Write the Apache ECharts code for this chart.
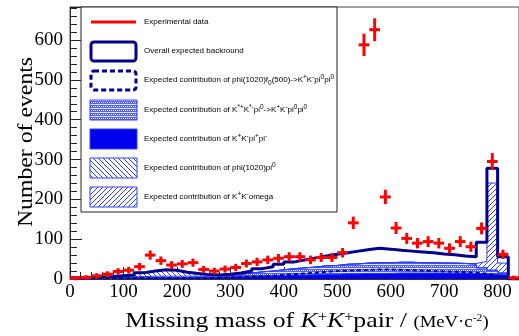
<!DOCTYPE html>
<html><head><meta charset="utf-8">
<script src="https://cdn.jsdelivr.net/npm/echarts@6/dist/echarts.min.js"></script>
<style>html,body{margin:0;padding:0;background:#fff}#c{width:519px;height:336px}</style>
</head><body><div id="c"></div>
<script>
// ---- data (bin centres in MeV/c^2, bin width 20) ----
const binWidth = 20;
const binCenters = [10,30,50,70,90,110,130,150,170,190,210,230,250,270,290,310,330,350,370,390,410,430,450,470,490,510,530,550,570,590,610,630,650,670,690,710,730,750,770,790,810,830];
const expData = [2,4,8,12,19,22,31,60,46,35,38,41,24,20,25,29,39,43,48,52,56,56,48,54,54,66,141,588,626,206,128,102,90,94,90,77,94,81,127,295,62,3];
const overallBkg = [3,4,5,6,8,10,16,20,23,22,17,14,11,10,12,15,20,26,31,37,43,48,53,58,62,66,70,74,77,75,72,70,68,66,63,61,58,56,92,278,56,0];
const kkpipi = [1,1,2,2,3,3,3,4,4,4,4,5,5,5,6,6,7,8,8,9,10,10,11,12,12,13,13,14,14,14,15,15,15,15,15,15,15,14,13,12,10,0];
const kstarKstarPi0 = [0,0,0,1,2,3,3,3,3,3,3,2,2,3,4,6,8,10,12,14,16,18,19,21,22,24,25,26,27,27,27,27,26,26,25,25,24,23,15,10,5,0];
const phiF0 = [1,1,2,2,2,2,2,2,2,2,2,2,2,3,4,5,6,6,8,10,12,14,16,18,20,21,22,23,24,24,23,22,21,20,19,18,17,16,13,8,4,0];
const phiPi0 = [0,0,0,0,3,4,10,13,16,15,10,7,4,0,0,0,0,0,0,0,0,0,0,0,0,0,0,0,0,0,0,0,0,0,0,0,0,0,0,0,0,0];
const kkOmega = [0,0,0,0,0,0,0,0,0,0,0,0,0,0,0,0,0,0,0,0,0,0,0,0,0,0,0,0,0,0,0,0,0,0,0,0,0,2,16,219,25,0];
const yTickStep = 100;
const xTickStep = 100;

// ---- patterns ----
function makePattern(kind){
  const c = document.createElement('canvas');
  const g = c.getContext('2d');
  if (kind === 'dots'){
    c.width = 4; c.height = 4;
    g.fillStyle = '#5062f2'; g.fillRect(0,0,4,4);
    g.fillStyle = '#ffffff';
    g.fillRect(0,0,1,1); g.fillRect(2,0,1,1); g.fillRect(1,2,1,1); g.fillRect(3,2,1,1);
    g.fillStyle = '#c8d0ff';
    g.fillRect(1,0,1,1); g.fillRect(3,0,1,1);
  } else {
    c.width = 5; c.height = 5;
    g.fillStyle = '#ffffff'; g.fillRect(0,0,5,5);
    g.strokeStyle = '#3040f0'; g.lineWidth = 1;
    for (let k=-1;k<=1;k++){
      g.beginPath();
      if (kind === 'fwd'){ g.moveTo(k*5, 5); g.lineTo(k*5+5, 0); }
      else { g.moveTo(k*5, 0); g.lineTo(k*5+5, 5); }
      g.stroke();
    }
  }
  return {image: c, repeat: 'repeat'};
}
const patDots = makePattern('dots');
const patBack = makePattern('back');
const patFwd = makePattern('fwd');

function histPoints(vals){
  const pts = vals.map((v,i)=>[binCenters[i]-binWidth/2, v]);
  pts.push([binCenters[binCenters.length-1]+binWidth/2, vals[vals.length-1]]);
  return pts;
}
// stacked tops (THStack-style), built from the component arrays
const layers = [kkpipi, kstarKstarPi0, phiPi0, kkOmega];
const cumTops = [];
layers.reduce((acc, arr)=>{ const s = acc.map((v,i)=>v+arr[i]); cumTops.push(s); return s; }, binCenters.map(()=>0));

const serif = '"Liberation Serif","Times New Roman",serif';
const sans = '"Liberation Sans",Arial,sans-serif';
const navy = '#00008c';

// piecewise text layout (for super/subscripts)
const mctx = document.createElement('canvas').getContext('2d');
function pieceGroup(pieces, cx, cy, opts){
  let w = 0;
  const kids = pieces.map(p=>{ mctx.font = p.f; const pw = mctx.measureText(p.t).width; const o = {p, x:w}; w += pw; return o; });
  return {type:'group', x:cx, y:cy, rotation:opts.rotation||0, scaleX:opts.scaleX||1, z:102,
    children: kids.map(o=>({type:'text', z:102, x:o.x - (opts.align==='left'?0:w/2), y:(o.p.dy||0),
      style:{text:o.p.t, font:o.p.f, fill:'#000', verticalAlign:'bottom'}}))};
}

const chart = echarts.init(document.getElementById('c'), null, {renderer:'canvas'});

function areaSeries(name, vals, fill){
  return {name, type:'line', step:'end', symbol:'none', z:2,
    data: histPoints(vals), lineStyle:{color:'#2a3cff', width:1},
    areaStyle:{color: fill, opacity:1, origin:'start'}, silent:true};
}

const legRich = {
  n:{fontSize:8, fontFamily:sans, lineHeight:13, verticalAlign:'middle', color:'#000'},
  sup:{fontSize:6.5, fontFamily:sans, lineHeight:7, verticalAlign:'top', color:'#000'},
  sub:{fontSize:6.5, fontFamily:sans, lineHeight:7, verticalAlign:'bottom', color:'#000'}
};
const legendTexts = [
  '{n|Experimental data}',
  '{n|Overall expected backround}',
  '{n|Expected contribution of phi(1020)f}{sub|0}{n|(500)->K}{sup|+}{n|K}{sup|-}{n|pi}{sup|0}{n|pi}{sup|0}',
  '{n|Expected contribution of K}{sup|*+}{n|K}{sup|*-}{n|pi}{sup|0}{n|->K}{sup|+}{n|K}{sup|-}{n|pi}{sup|0}{n|pi}{sup|0}',
  '{n|Expected contribution of K}{sup|+}{n|K}{sup|-}{n|pi}{sup|+}{n|pi}{sup|-}',
  '{n|Expected contribution of phi(1020)pi}{sup|0}',
  '{n|Expected contribution of K}{sup|+}{n|K}{sup|-}{n|omega}'
];
const legendY = [22,51,80,110,139,168,197];

const T = 22;
const xTitle = pieceGroup([
  {t:'Missing mass of ', f:T+'px '+serif},
  {t:'K', f:'italic '+T+'px '+serif},
  {t:'+', f:'14px '+serif, dy:-8},
  {t:'K', f:'italic '+T+'px '+serif},
  {t:'+', f:'14px '+serif, dy:-8},
  {t:'pair / ', f:T+'px '+serif},
  {t:'(MeV·c', f:'16px '+serif, dy:-1},
  {t:'-2', f:'10px '+serif, dy:-9},
  {t:')', f:'16px '+serif, dy:-1}
], 307, 332, {scaleX:1.17});
const yTitle = pieceGroup([{t:'Number of events', f:T+'px '+serif}], 37, 142, {rotation:Math.PI/2, scaleX:1.08});

const graphics = [
  {type:'rect', z:100, shape:{x:81, y:7, width:256, height:205}, style:{fill:'#fff', stroke:'#222', lineWidth:1}},
  {type:'line', z:101, shape:{x1:91,y1:22,x2:136,y2:22}, style:{stroke:'#ff0000', lineWidth:3}},
  {type:'rect', z:101, shape:{x:91,y:42,width:45,height:19,r:3}, style:{fill:'#fff', stroke:navy, lineWidth:3}},
  {type:'rect', z:101, shape:{x:91,y:71,width:45,height:19,r:3}, style:{fill:'#fff', stroke:navy, lineWidth:3, lineDash:[5,3]}},
  {type:'rect', z:101, shape:{x:90,y:100,width:47,height:20}, style:{fill:patDots, stroke:'#3344ff', lineWidth:1}},
  {type:'rect', z:101, shape:{x:90,y:129,width:47,height:20}, style:{fill:'#0000ee', stroke:'#3344ff', lineWidth:1}},
  {type:'rect', z:101, shape:{x:90,y:158,width:47,height:20}, style:{fill:patBack, stroke:'#3344ff', lineWidth:1}},
  {type:'rect', z:101, shape:{x:90,y:187,width:47,height:20}, style:{fill:patFwd, stroke:'#3344ff', lineWidth:1}},
  xTitle, yTitle
];
legendTexts.forEach((t,i)=>{
  graphics.push({type:'text', z:102, style:{text:t, x:144, y:legendY[i], verticalAlign:'middle', font:'8px '+sans, fill:'#000', rich:legRich}});
});

chart.setOption({
  animation:false,
  backgroundColor:'#fff',
  grid:{left:70, right:-1, top:7, bottom:57, show:true, borderColor:'#444', borderWidth:1},
  xAxis:{type:'value', min:0, max:840, interval:xTickStep,
    axisLine:{show:true, lineStyle:{color:'#333', width:1}},
    axisTick:{inside:true, length:12, lineStyle:{color:'#222'}},
    minorTick:{show:true, splitNumber:5, length:7, lineStyle:{color:'#222'}},
    splitLine:{show:false},
    axisLabel:{fontFamily:serif, fontSize:19, color:'#000', margin:4, showMaxLabel:false}},
  yAxis:{type:'value', min:0, max:683, interval:yTickStep,
    axisLine:{show:true, lineStyle:{color:'#333', width:1}},
    axisTick:{inside:true, length:12, lineStyle:{color:'#222'}},
    minorTick:{show:true, splitNumber:5, length:7, lineStyle:{color:'#222'}},
    splitLine:{show:false},
    axisLabel:{fontFamily:serif, fontSize:19, color:'#000', margin:7, showMaxLabel:false}},
  series:[
    areaSeries('K+K-omega', cumTops[3], patFwd),
    areaSeries('phi(1020)pi0', cumTops[2], patBack),
    areaSeries('K*+K*-pi0', cumTops[1], patDots),
    areaSeries('K+K-pi+pi-', cumTops[0], '#0000ee'),
    {name:'phi f0', type:'line', step:'end', symbol:'none', z:3, data:histPoints(phiF0),
      lineStyle:{color:navy, width:2, type:[4,3]}},
    {name:'overall', type:'line', step:'end', symbol:'none', z:4, data:histPoints(overallBkg),
      lineStyle:{color:navy, width:3}},
    {name:'Experimental data', type:'custom', z:5,
      data: expData.map((v,i)=>[binCenters[i], v, Math.sqrt(v)]),
      renderItem:(params, api)=>{
        const x = api.value(0), y = api.value(1), e = api.value(2);
        const l = api.coord([x-binWidth/2, y]), r = api.coord([x+binWidth/2, y]);
        const t = api.coord([x, y+e]), b = api.coord([x, Math.max(0, y-e)]);
        const st = {stroke:'#ff0000', lineWidth:3};
        return {type:'group', children:[
          {type:'line', shape:{x1:l[0], y1:l[1], x2:r[0], y2:r[1]}, style:st},
          {type:'line', shape:{x1:t[0], y1:t[1]-1.5, x2:b[0], y2:b[1]+1.5}, style:st}
        ]};
      }}
  ],
  graphic: graphics
});
</script>
</body></html>
